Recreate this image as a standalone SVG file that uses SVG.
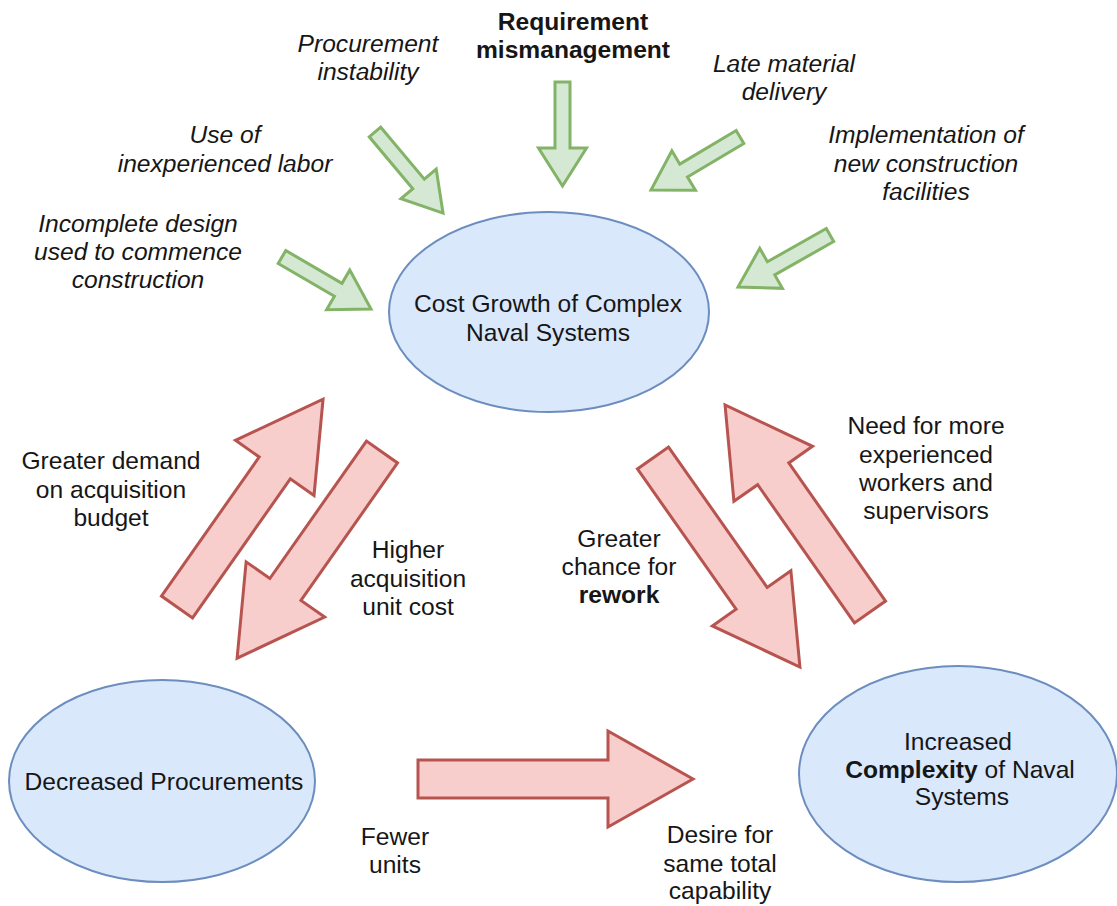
<svg xmlns="http://www.w3.org/2000/svg" width="1117" height="906" viewBox="0 0 1117 906">
  <style>
    .node { fill: #dae8fc; stroke: #6c8ebf; stroke-width: 2; }
    .lbl { font-family: "Liberation Sans", Arial, sans-serif; font-size: 24.6px; fill: #161616; text-anchor: middle; }
    .it { font-style: italic; }
    .b { font-weight: bold; }
    .g { fill: #d5e8d4; stroke: #82b366; stroke-width: 3; stroke-linejoin: miter; }
    .r { fill: #f8cecc; stroke: #b85450; stroke-width: 3; stroke-linejoin: miter; }
  </style>
  <rect width="1117" height="906" fill="#ffffff"/>

  <!-- connectors: block arrows -->
  <g id="connectors">
    <!-- green influence arrows into cost growth (shaft half 7.5, head half 23, head length 38) -->
    <polygon class="g" transform="translate(375,132) rotate(50)" points="0,-7.5 67.8,-7.5 67.8,-23 105.8,0 67.8,23 67.8,7.5 0,7.5"/>
    <polygon class="g" transform="translate(562.5,82) rotate(90)" points="0,-7.5 66,-7.5 66,-24 104,0 66,24 66,7.5 0,7.5"/>
    <polygon class="g" transform="translate(740,137) rotate(149.2)" points="0,-7.5 65.6,-7.5 65.6,-23 103.6,0 65.6,23 65.6,7.5 0,7.5"/>
    <polygon class="g" transform="translate(830,235) rotate(150.5)" points="0,-7.5 67.7,-7.5 67.7,-23 105.7,0 67.7,23 67.7,7.5 0,7.5"/>
    <polygon class="g" transform="translate(282,257) rotate(30.3)" points="0,-7.5 65.1,-7.5 65.1,-23 103.1,0 65.1,23 65.1,7.5 0,7.5"/>

    <!-- red feedback arrows (shaft half 19, head half 48, head length 84) -->
    <polygon class="r" transform="translate(177,607) rotate(-54.9)" points="0,-19 170,-19 170,-48 254,0 170,48 170,19 0,19"/>
    <polygon class="r" transform="translate(382,452) rotate(125.1)" points="0,-19 168,-19 168,-48 252,0 168,48 168,19 0,19"/>
    <polygon class="r" transform="translate(653,458) rotate(54.9)" points="0,-19 171.5,-19 171.5,-48 255.5,0 171.5,48 171.5,19 0,19"/>
    <polygon class="r" transform="translate(870,612) rotate(-125)" points="0,-19 168.7,-19 168.7,-48 252.7,0 168.7,48 168.7,19 0,19"/>
    <polygon class="r" transform="translate(418,779)" points="0,-19 190,-19 190,-48 275,0 190,48 190,19 0,19"/>
  </g>

  <!-- central nodes -->
  <g id="cost-growth">
    <ellipse class="node" cx="549" cy="312" rx="160" ry="100"/>
    <text class="lbl" x="548" y="312">Cost Growth of Complex</text>
    <text class="lbl" x="548" y="341">Naval Systems</text>
  </g>
  <g id="decreased-procurements">
    <ellipse class="node" cx="162" cy="781" rx="153" ry="101"/>
    <text class="lbl" x="164" y="790">Decreased Procurements</text>
  </g>
  <g id="increased-complexity">
    <ellipse class="node" cx="958" cy="774" rx="159" ry="108"/>
    <text class="lbl" x="958" y="750">Increased</text>
    <text class="lbl" x="960" y="778"><tspan class="b">Complexity</tspan> of Naval</text>
    <text class="lbl" x="962" y="805">Systems</text>
  </g>

  <!-- contributing factors -->
  <g id="procurement-instability">
    <text class="lbl it" x="368" y="52">Procurement</text>
    <text class="lbl it" x="368" y="80">instability</text>
  </g>
  <g id="requirement-mismanagement">
    <text class="lbl b" x="573" y="30">Requirement</text>
    <text class="lbl b" x="573" y="58">mismanagement</text>
  </g>
  <g id="late-material-delivery">
    <text class="lbl it" x="784" y="72">Late material</text>
    <text class="lbl it" x="784" y="100">delivery</text>
  </g>
  <g id="inexperienced-labor">
    <text class="lbl it" x="225" y="143">Use of</text>
    <text class="lbl it" x="225" y="172">inexperienced labor</text>
  </g>
  <g id="new-facilities">
    <text class="lbl it" x="926" y="143">Implementation of</text>
    <text class="lbl it" x="926" y="172">new construction</text>
    <text class="lbl it" x="926" y="200">facilities</text>
  </g>
  <g id="incomplete-design">
    <text class="lbl it" x="138" y="232">Incomplete design</text>
    <text class="lbl it" x="138" y="260">used to commence</text>
    <text class="lbl it" x="138" y="288">construction</text>
  </g>

  <!-- arrow captions -->
  <g id="label-budget">
    <text class="lbl" x="111" y="469">Greater demand</text>
    <text class="lbl" x="111" y="498">on acquisition</text>
    <text class="lbl" x="111" y="526">budget</text>
  </g>
  <g id="label-unit-cost">
    <text class="lbl" x="408" y="558">Higher</text>
    <text class="lbl" x="408" y="587">acquisition</text>
    <text class="lbl" x="408" y="615">unit cost</text>
  </g>
  <g id="label-rework">
    <text class="lbl" x="619" y="547">Greater</text>
    <text class="lbl" x="619" y="575">chance for</text>
    <text class="lbl b" x="619" y="603">rework</text>
  </g>
  <g id="label-workers">
    <text class="lbl" x="926" y="434">Need for more</text>
    <text class="lbl" x="926" y="463">experienced</text>
    <text class="lbl" x="926" y="491">workers and</text>
    <text class="lbl" x="926" y="519">supervisors</text>
  </g>
  <g id="label-fewer">
    <text class="lbl" x="395" y="845">Fewer</text>
    <text class="lbl" x="395" y="873">units</text>
  </g>
  <g id="label-capability">
    <text class="lbl" x="720" y="843">Desire for</text>
    <text class="lbl" x="720" y="872">same total</text>
    <text class="lbl" x="720" y="899">capability</text>
  </g>
</svg>
